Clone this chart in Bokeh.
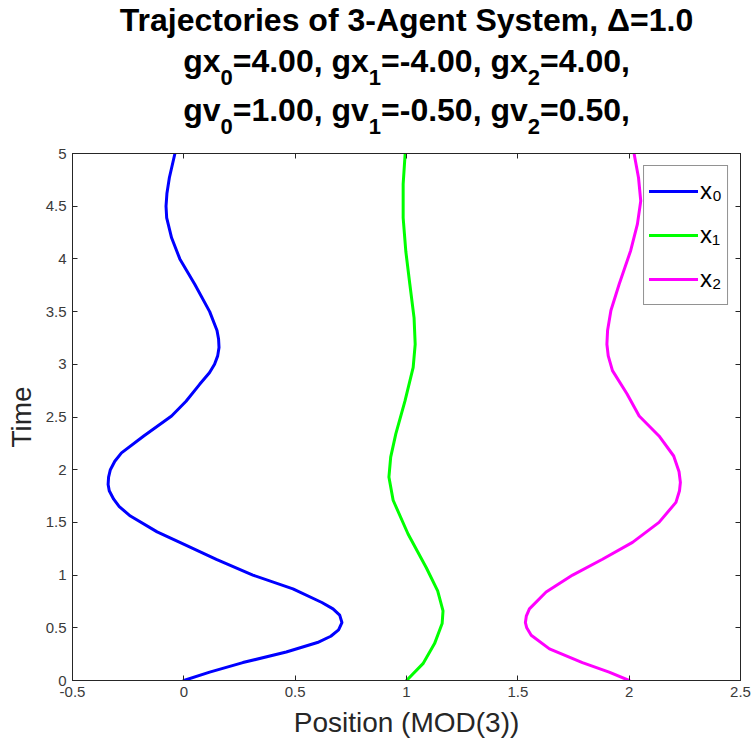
from bokeh.plotting import figure
from bokeh.layouts import column
from bokeh.models import FixedTicker, LinearAxis, Legend, LegendItem, Range1d
from bokeh.core.properties import value
from bokeh.embed import file_html
from bokeh.resources import INLINE

# ---------------- data ----------------
t0 = [0.00, 0.08, 0.17, 0.27, 0.36, 0.42, 0.48, 0.55, 0.62, 0.68, 0.74, 0.87, 1.00, 1.15,
      1.31, 1.41, 1.56, 1.65, 1.72, 1.80, 1.86, 1.93, 2.00, 2.08, 2.16, 2.32, 2.51, 2.65, 2.81, 2.92, 3.00,
      3.08, 3.16, 3.24, 3.32, 3.50, 3.76, 4.00, 4.20, 4.39, 4.50, 4.62, 4.77, 5.00]
x0 = [0.000, 0.116, 0.265, 0.46, 0.60, 0.66, 0.695, 0.71, 0.70, 0.67, 0.62, 0.49, 0.31, 0.146,
      -0.018, -0.12, -0.24, -0.29, -0.315, -0.335, -0.34, -0.338, -0.33, -0.31, -0.28, -0.18, -0.055, 0.01, 0.071, 0.115, 0.138,
      0.152, 0.158, 0.156, 0.149, 0.116, 0.049, -0.018, -0.055, -0.077, -0.08, -0.076, -0.065, -0.04]

t1 = [0.00, 0.16, 0.35, 0.54, 0.66, 0.85, 1.07, 1.39, 1.71, 1.93, 2.12, 2.34,
      2.65, 2.97, 3.19, 3.44, 3.76, 4.07, 4.39, 4.71, 5.00]
x1 = [1.000, 1.074, 1.126, 1.160, 1.164, 1.140, 1.089, 1.007, 0.940, 0.921, 0.929, 0.952,
      0.993, 1.030, 1.039, 1.034, 1.015, 0.997, 0.985, 0.985, 0.994]

t2 = [0.00, 0.08, 0.17, 0.30, 0.43, 0.50, 0.55, 0.61, 0.68, 0.84, 1.00, 1.15, 1.31, 1.50,
      1.69, 1.80, 1.88, 1.98, 2.13, 2.32, 2.51, 2.72, 2.94, 3.08, 3.19, 3.32, 3.51, 3.76, 4.08, 4.33,
      4.55, 4.77, 5.00]
x2 = [2.000, 1.910, 1.790, 1.642, 1.560, 1.540, 1.534, 1.538, 1.552, 1.627, 1.746, 1.880, 2.015, 2.134,
      2.210, 2.226, 2.230, 2.224, 2.200, 2.134, 2.045, 1.990, 1.925, 1.906, 1.900, 1.903, 1.918, 1.955, 2.007, 2.037,
      2.052, 2.042, 2.022]

series_names = ["x\u2080", "x\u2081", "x\u2082"]
series_colors = ["#0000FF", "#00FF00", "#FF00FF"]

x_ticks = [-0.5, 0, 0.5, 1, 1.5, 2, 2.5]
x_tick_labels = ["-0.5", "0", "0.5", "1", "1.5", "2", "2.5"]
y_ticks = [0, 0.5, 1, 1.5, 2, 2.5, 3, 3.5, 4, 4.5, 5]
y_tick_labels = ["0", "0.5", "1", "1.5", "2", "2.5", "3", "3.5", "4", "4.5", "5"]

title_line1 = "Trajectories of 3-Agent System, \u0394=1.0"
# (text, is_subscript) pieces
title_line2 = [("gx", 0), ("0", 1), ("=4.00, gx", 0), ("1", 1), ("=-4.00, gx", 0), ("2", 1), ("=4.00,", 0)]
title_line3 = [("gv", 0), ("0", 1), ("=1.00, gv", 0), ("1", 1), ("=-0.50, gv", 0), ("2", 1), ("=0.50,", 0)]

# ---------------- layout ----------------
W, H = 755, 751
HEAD = 140                   # height of the title strip
FL, FR, FT, FB = 72, 740, 153, 680  # frame edges in page px

# ---------------- title strip (frame aligned with the main plot's frame) ----------------
head = figure(width=W, height=HEAD, x_range=Range1d(FL, FR), y_range=Range1d(HEAD, 0),
              title_location=None, output_backend="svg", toolbar_location=None,
              x_axis_location=None, y_axis_location=None,
              min_border_left=FL, min_border_right=W - FR,
              min_border_top=0, min_border_bottom=0)
head.grid.visible = False
head.outline_line_color = None
head.background_fill_color = "white"
head.border_fill_color = "white"

WIDTHS = {" ": 278, ",": 278, "-": 333, ".": 278, "=": 584, "g": 611, "x": 556, "v": 556}
for d in "0123456789":
    WIDTHS[d] = 556

def text_width(s, size):
    return sum(WIDTHS.get(c, 556) for c in s) * size / 1000.0

TF = "Liberation Sans"
MAIN, SUB = 32, 22
MID = 0.3465   # distance (in em) from the alphabetic baseline up to the em-box middle
cx = (FL + FR) / 2.0

def add_text(px, baseline, s, size, align="left"):
    head.text(x=[px], y=[baseline - MID * size], text=[s], text_font=value(TF),
              text_font_style="bold", text_font_size=value(f"{size}px"),
              text_color="#000000", text_align=align, text_baseline="middle")

add_text(cx, 31, title_line1, MAIN, align="center")

def add_line(pieces, baseline):
    total = sum(text_width(s, SUB if sub else MAIN) for s, sub in pieces)
    xpos = cx - total / 2.0
    for s, sub in pieces:
        size = SUB if sub else MAIN
        add_text(xpos, baseline + (13 if sub else 0), s, size)
        xpos += text_width(s, size)

add_line(title_line2, 72)
add_line(title_line3, 121)

# ---------------- main plot ----------------
p = figure(width=W, height=H - HEAD, x_range=(-0.5, 2.5), y_range=(0, 5),
           title_location=None, output_backend="svg", toolbar_location=None,
           min_border_left=FL, min_border_right=W - FR,
           min_border_top=FT - HEAD, min_border_bottom=H - FB)
p.grid.visible = False
p.outline_line_color = "#262626"
p.outline_line_width = 1
p.background_fill_color = "white"
p.border_fill_color = "white"

AX = "#262626"
TICK_FONT = "Liberation Sans"

def style_axis(ax, ticks, labels, show_labels=True):
    ax.ticker = FixedTicker(ticks=ticks)
    ax.major_label_overrides = {tk: (lb if show_labels else "") for tk, lb in zip(ticks, labels)}
    ax.major_tick_in = 5
    ax.major_tick_out = 0
    ax.minor_tick_line_color = None
    ax.axis_line_color = AX
    ax.major_tick_line_color = AX
    ax.major_label_text_color = "#3a3a3a"
    ax.major_label_text_font = TICK_FONT
    ax.major_label_text_font_size = "15px"

style_axis(p.xaxis[0], x_ticks, x_tick_labels)
style_axis(p.yaxis[0], y_ticks, y_tick_labels)
p.xaxis[0].major_label_standoff = 6
p.yaxis[0].major_label_standoff = 6

p.xaxis[0].axis_label = "Position (MOD(3))"
p.yaxis[0].axis_label = "Time"
for ax in (p.xaxis[0], p.yaxis[0]):
    ax.axis_label_text_font = TICK_FONT
    ax.axis_label_text_font_style = "normal"
    ax.axis_label_text_font_size = "28px"
    ax.axis_label_text_color = "#262626"
p.xaxis[0].axis_label_standoff = 7
p.yaxis[0].axis_label_standoff = 6

top_ax = LinearAxis()
style_axis(top_ax, x_ticks, x_tick_labels, show_labels=False)
top_ax.major_label_standoff = 0
top_ax.major_label_text_font_size = "1px"
p.add_layout(top_ax, "above")
right_ax = LinearAxis()
style_axis(right_ax, y_ticks, y_tick_labels, show_labels=False)
right_ax.major_label_standoff = 0
right_ax.major_label_text_font_size = "1px"
p.add_layout(right_ax, "right")

renderers = []
for tt, xx, col in zip([t0, t1, t2], [x0, x1, x2], series_colors):
    r = p.line(x=xx, y=tt, line_color=col, line_width=3, line_join="round", line_cap="round")
    renderers.append(r)

legend = Legend(items=[LegendItem(label=n, renderers=[r]) for n, r in zip(series_names, renderers)],
                location="top_right", margin=12, padding=5, spacing=4,
                glyph_width=49, glyph_height=40, label_height=40, label_standoff=2,
                label_text_font=TICK_FONT, label_text_font_size="24px",
                label_text_color="#000000",
                border_line_color="#262626", border_line_width=1,
                background_fill_color="white", background_fill_alpha=1.0)
p.add_layout(legend)

layout = column(head, p, spacing=0)
open("out.html", "w").write(file_html(layout, INLINE))
